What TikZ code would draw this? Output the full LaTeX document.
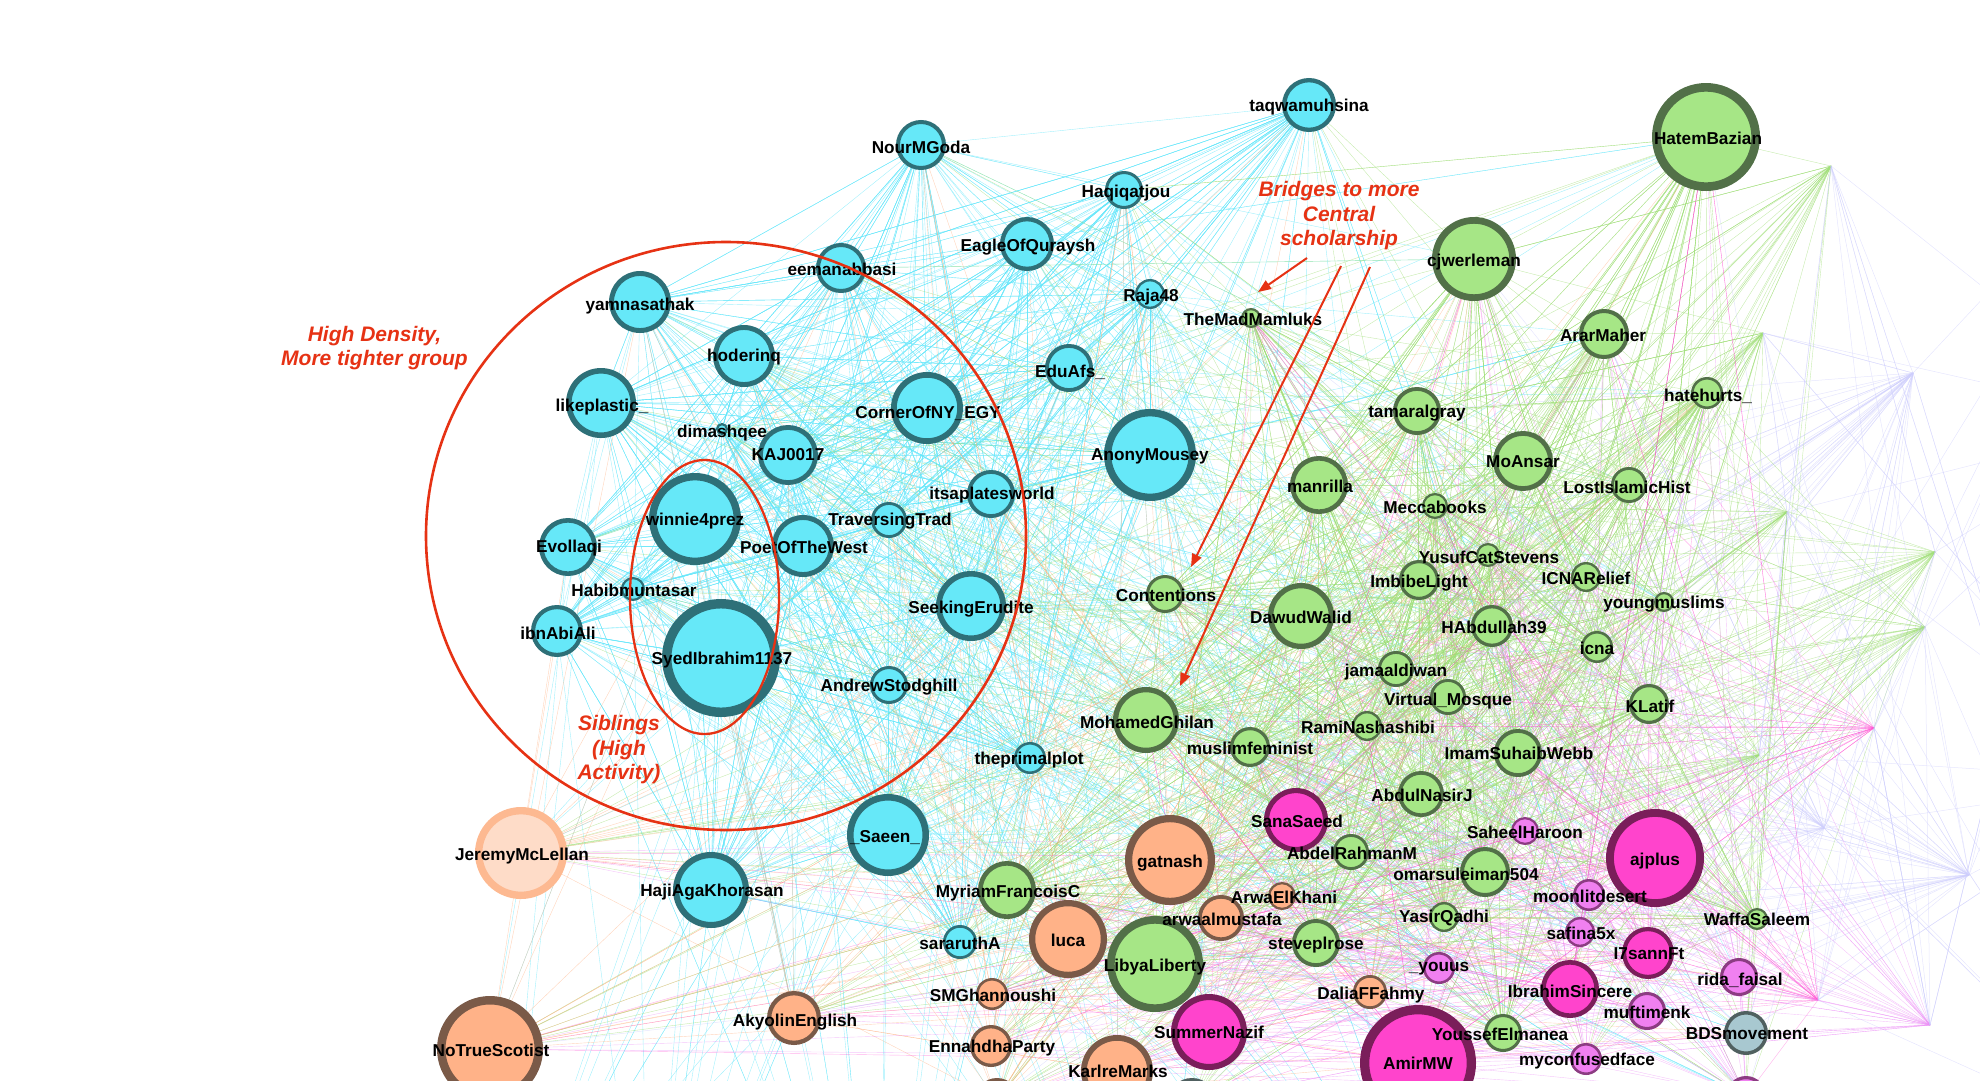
\documentclass[tikz,border=0pt]{standalone}
\usepackage{fontspec}
\setmainfont{Liberation Sans}
\usetikzlibrary{arrows.meta}
\pgfdeclarelayer{edges}
\pgfdeclarelayer{fg}
\pgfsetlayers{edges,main,fg}
\definecolor{cyanF}{RGB}{102,232,248}
\definecolor{cyanB}{RGB}{46,112,120}
\definecolor{grnF}{RGB}{166,230,134}
\definecolor{grnB}{RGB}{82,112,72}
\definecolor{orgF}{RGB}{255,178,136}
\definecolor{orgB}{RGB}{122,90,72}
\definecolor{orgLF}{RGB}{254,220,200}
\definecolor{orgLB}{RGB}{253,185,145}
\definecolor{pnkF}{RGB}{255,68,204}
\definecolor{pnkB}{RGB}{122,30,90}
\definecolor{vioF}{RGB}{240,128,240}
\definecolor{vioB}{RGB}{140,60,130}
\definecolor{gryF}{RGB}{168,200,208}
\definecolor{gryB}{RGB}{80,96,96}
\definecolor{annot}{RGB}{230,50,20}
\definecolor{ecyan}{RGB}{100,230,250}
\definecolor{egreen}{RGB}{160,222,120}
\definecolor{eorange}{RGB}{255,170,120}
\definecolor{epink}{RGB}{255,80,210}
\definecolor{eviolet}{RGB}{235,140,245}
\definecolor{elav}{RGB}{205,205,252}
\tikzset{
  base/.style={circle, inner sep=0pt, outer sep=0pt},
  cyn/.style={base, fill=cyanF, draw=cyanB},
  grn/.style={base, fill=grnF, draw=grnB},
  org/.style={base, fill=orgF, draw=orgB},
  orglight/.style={base, fill=orgLF, draw=orgLB},
  pnk/.style={base, fill=pnkF, draw=pnkB},
  vio/.style={base, fill=vioF, draw=vioB},
  gry/.style={base, fill=gryF, draw=gryB},
  lbl/.style={font=\fontsize{17.2}{19}\selectfont\bfseries, inner sep=0pt, text=black},
  note/.style={text=annot, font=\fontsize{21}{24.5}\selectfont\bfseries\itshape, align=center, inner sep=0pt},
  ring/.style={draw=annot, line width=2.6pt},
  redarrow/.style={draw=annot, line width=2pt, -{Triangle[length=13pt,width=10pt]}},
  ec/.style={draw=ecyan, line width=0.4pt, opacity=0.6},
  eg/.style={draw=egreen, line width=0.4pt, opacity=0.6},
  eo/.style={draw=eorange, line width=0.4pt, opacity=0.5},
  ep/.style={draw=epink, line width=0.4pt, opacity=0.45},
  ev/.style={draw=eviolet, line width=0.4pt, opacity=0.5},
  el/.style={draw=elav, line width=0.5pt, opacity=0.5},
}
\newcommand{\gnode}[9]{%
  \pgfmathsetmacro{\bw}{max(2.2,0.16*#6)}%
  \pgfmathsetmacro{\ms}{2*#6-\bw}%
  \node[#1, alias=n#3, line width=\bw pt, minimum size=\ms pt] (#2) at (#4,#5) {};%
  \begin{pgfonlayer}{fg}\node[lbl] (#2-l) at (#8,#9) {#7};\end{pgfonlayer}%
}
\newcommand{\bnode}[6]{%
  \pgfmathsetmacro{\bw}{max(2.2,0.16*#6)}%
  \pgfmathsetmacro{\ms}{2*#6-\bw}%
  \node[#1, alias=n#3, line width=\bw pt, minimum size=\ms pt] (#2) at (#4,#5) {};%
}
\begin{document}
\begin{tikzpicture}[x=1pt,y=-1pt]
\useasboundingbox (0,0) rectangle (1980,1080);
% ---- cyan group
\gnode{cyn}{taqwa}{1}{1309}{105}{27}{taqwamuhsina}{1309}{107}
\gnode{cyn}{nour}{2}{921}{145}{25}{NourMGoda}{921}{147}
\gnode{cyn}{haqi}{3}{1124}{190}{19}{Haqiqatjou}{1126}{193}
\gnode{cyn}{eagle}{4}{1027}{244}{27}{EagleOfQuraysh}{1028}{247}
\gnode{cyn}{eeman}{5}{841}{268}{25}{eemanabbasi}{842}{269}
\gnode{cyn}{yamna}{6}{640}{302}{31}{yamnasathak}{640}{306}
\gnode{cyn}{raja}{7}{1150}{294}{15}{Raja48}{1151}{297}
\gnode{cyn}{hoder}{8}{744}{356}{31}{hoderinq}{744}{357}
\gnode{cyn}{likep}{9}{601}{403}{35}{likeplastic\_}{602}{407}
\gnode{cyn}{eduafs}{10}{1069}{368}{24}{EduAfs\_}{1070}{372}
\gnode{cyn}{corner}{11}{927}{408}{36}{CornerOfNY\_EGY}{928}{413}
\gnode{cyn}{dimash}{12}{722}{429}{6}{dimashqee}{722}{433}
\gnode{cyn}{kaj}{13}{788}{455}{30}{KAJ0017}{788}{455}
\gnode{cyn}{anony}{14}{1150}{455}{46}{AnonyMousey}{1150}{456}
\gnode{cyn}{itsap}{15}{991}{494}{24}{itsaplatesworld}{992}{495}
\gnode{cyn}{winnie}{16}{695}{519}{46}{winnie4prez}{695}{521}
\gnode{cyn}{trav}{17}{889}{520}{18}{TraversingTrad}{890}{521}
\gnode{cyn}{poet}{18}{803}{546}{31}{PoetOfTheWest}{804}{547}
\gnode{cyn}{evoll}{19}{568}{547}{29}{Evollaqi}{569}{548}
\gnode{cyn}{habib}{20}{633}{589}{12}{Habibmuntasar}{634}{590}
\gnode{cyn}{seek}{21}{971}{606}{35}{SeekingErudite}{971}{609}
\gnode{cyn}{ibnabi}{22}{557}{631}{26}{ibnAbiAli}{558}{633}
\gnode{cyn}{syed}{23}{721}{658}{59}{SyedIbrahim1137}{722}{660}
\gnode{cyn}{andrew}{24}{889}{685}{19}{AndrewStodghill}{889}{687}
\gnode{cyn}{primal}{25}{1030}{758}{16}{theprimalplot}{1029}{760}
\gnode{cyn}{saeen}{26}{888}{835}{41}{\_Saeen\_}{885}{838}
\gnode{cyn}{haji}{27}{711}{890}{38}{HajiAgaKhorasan}{712}{892}
\gnode{cyn}{sara}{28}{960}{942}{17}{sararuthA}{960}{943}
% ---- green group
\gnode{grn}{hatem}{29}{1706}{137}{54}{HatemBazian}{1708}{138}
\gnode{grn}{cjwer}{30}{1474}{259}{42}{cjwerleman}{1474}{262}
\gnode{grn}{madm}{31}{1251}{318}{10}{TheMadMamluks}{1253}{319}
\gnode{grn}{arar}{32}{1604}{334}{25}{ArarMaher}{1603}{335}
\gnode{grn}{hateh}{33}{1707}{393}{16}{hatehurts\_}{1708}{396}
\gnode{grn}{tamar}{34}{1417}{411}{24}{tamaralgray}{1417}{413}
\gnode{grn}{manr}{35}{1319}{485}{29}{manrilla}{1320}{486}
\gnode{grn}{moans}{36}{1523}{461}{30}{MoAnsar}{1523}{462}
\gnode{grn}{losti}{37}{1629}{485}{18}{LostIslamicHist}{1627}{487}
\gnode{grn}{mecca}{38}{1435}{506}{13}{Meccabooks}{1435}{507}
\gnode{grn}{yusuf}{39}{1488}{555}{12}{YusufCatStevens}{1489}{557}
\gnode{grn}{conten}{40}{1165}{594}{19}{Contentions}{1166}{595}
\gnode{grn}{icnar}{41}{1586}{577}{15}{ICNARelief}{1586}{578}
\gnode{grn}{imbibe}{42}{1419}{580}{20}{ImbibeLight}{1419}{583}
\gnode{grn}{youngm}{43}{1664}{602}{10}{youngmuslims}{1664}{604}
\gnode{grn}{dawud}{44}{1301}{616}{33}{DawudWalid}{1301}{617}
\gnode{grn}{habd}{45}{1492}{626}{21}{HAbdullah39}{1494}{627}
\gnode{grn}{icna}{46}{1597}{647}{16}{icna}{1597}{648}
\gnode{grn}{jamaal}{47}{1396}{669}{18}{jamaaldiwan}{1396}{672}
\gnode{grn}{virtual}{48}{1448}{697}{18}{Virtual\_Mosque}{1448}{701}
\gnode{grn}{klatif}{49}{1649}{704}{20}{KLatif}{1650}{706}
\gnode{grn}{ghilan}{50}{1146}{720}{33}{MohamedGhilan}{1147}{722}
\gnode{grn}{rami}{51}{1367}{726}{15}{RamiNashashibi}{1368}{727}
\gnode{grn}{muslimf}{52}{1250}{747}{20}{muslimfeminist}{1250}{748}
\gnode{grn}{suhaib}{53}{1518}{753}{24}{ImamSuhaibWebb}{1519}{753}
\gnode{grn}{abdulnj}{54}{1421}{794}{23}{AbdulNasirJ}{1422}{795}
\gnode{grn}{abdelr}{55}{1351}{852}{18}{AbdelRahmanM}{1352}{853}
\gnode{grn}{omars}{56}{1485}{872}{25}{omarsuleiman504}{1466}{874}
\gnode{grn}{myriam}{57}{1007}{890}{29}{MyriamFrancoisC}{1008}{893}
\gnode{grn}{yasir}{58}{1444}{917}{15}{YasirQadhi}{1444}{918}
\gnode{grn}{libya}{59}{1155}{964}{48}{LibyaLiberty}{1155}{967}
\gnode{grn}{steve}{60}{1316}{943}{24}{steveplrose}{1316}{945}
\gnode{grn}{waffa}{61}{1757}{919}{11}{WaffaSaleem}{1757}{919}
\gnode{grn}{youssef}{62}{1503}{1033}{19}{YoussefElmanea}{1500}{1034}
% ---- orange group
\gnode{org}{gatnash}{63}{1170}{860}{45}{gatnash}{1170}{863}
\gnode{org}{arwaal}{64}{1221}{918}{23}{arwaalmustafa}{1222}{919}
\gnode{org}{arwael}{65}{1282}{896}{14}{ArwaElKhani}{1284}{897}
\gnode{org}{luca}{66}{1068}{939}{39}{luca}{1068}{940}
\gnode{org}{dalia}{67}{1370}{992}{17}{DaliaFFahmy}{1371}{995}
\gnode{org}{smg}{68}{992}{994}{16}{SMGhannoushi}{993}{995}
\gnode{org}{akyol}{69}{794}{1018}{27}{AkyolinEnglish}{795}{1022}
\gnode{org}{notrue}{70}{490}{1049}{53}{NoTrueScotist}{491}{1050}
\gnode{org}{ennah}{71}{991}{1046}{21}{EnnahdhaParty}{992}{1048}
\gnode{org}{karl}{72}{1117}{1071}{36}{KarlreMarks}{1118}{1071}
\bnode{org}{obot}{73}{997}{1100}{22}
\gnode{orglight}{jeremy}{74}{521}{853}{46}{JeremyMcLellan}{522}{856}
% ---- pink group
\gnode{pnk}{sana}{75}{1296}{820}{32}{SanaSaeed}{1297}{821}
\gnode{pnk}{ajplus}{76}{1655}{858}{49}{ajplus}{1655}{861}
\gnode{pnk}{isann}{77}{1648}{953}{26}{I7sannFt}{1649}{954}
\gnode{pnk}{ibrahims}{78}{1570}{989}{29}{IbrahimSincere}{1570}{991}
\gnode{pnk}{summer}{79}{1209}{1032}{38}{SummerNazif}{1209}{1032}
\gnode{pnk}{amir}{80}{1418}{1063}{58}{AmirMW}{1418}{1063}
% ---- violet group
\gnode{vio}{saheel}{81}{1525}{831}{14}{SaheelHaroon}{1525}{832}
\gnode{vio}{moonlit}{82}{1589}{895}{16}{moonlitdesert}{1590}{896}
\gnode{vio}{safina}{83}{1580}{932}{15}{safina5x}{1581}{933}
\gnode{vio}{youus}{84}{1439}{968}{16}{\_youus}{1439}{969}
\gnode{vio}{rida}{85}{1739}{977}{19}{rida\_faisal}{1740}{980}
\gnode{vio}{mufti}{86}{1647}{1011}{19}{muftimenk}{1647}{1012}
\gnode{vio}{myconf}{87}{1586}{1059}{16}{myconfusedface}{1587}{1061}
\bnode{vio}{shbot}{88}{1746}{1096}{20}
% ---- grey group
\gnode{gry}{bds}{89}{1746}{1033}{22}{BDSmovement}{1747}{1034}
\bnode{gry}{gbot}{90}{1192}{1103}{25}
% ---- hubs and off-canvas ends
\foreach \hx/\hy [count=\h] in {1831/166,1763/333,1913/373,1787/512,1935/552,1925/627,1874/728,1759/755,1969/875,1818/1000,1930/1025,1824/828}
  \coordinate (hub\h) at (\hx,\hy);
\foreach \bx/\by [count=\b] in {500/1300,650/1350,880/1400,1150/1350,1450/1300}
  \coordinate (ob\b) at (\bx,\by);
\foreach \rx/\ry [count=\r] in {2150/120,2150/420,2150/780,2150/1150}
  \coordinate (orr\r) at (\rx,\ry);
% ---- connectors
\begin{pgfonlayer}{edges}
\pgfmathsetseed{4242}
\foreach \i in {1,...,28}{%
  \foreach \k in {1,...,28}{\pgfmathrandominteger{\j}{1}{28}\draw[ec] (n\i.center) -- (n\j.center);}%
  \foreach \k in {1,...,14}{\pgfmathrandominteger{\j}{1}{90}\draw[ec] (n\i.center) -- (n\j.center);}%
  \foreach \k in {1,2,3}{\pgfmathrandominteger{\j}{1}{5}\draw[ec] (n\i.center) -- (ob\j);}%
}
\foreach \i in {29,...,62}{%
  \foreach \k in {1,...,22}{\pgfmathrandominteger{\j}{29}{62}\draw[eg] (n\i.center) -- (n\j.center);}%
  \foreach \k in {1,...,12}{\pgfmathrandominteger{\j}{1}{90}\draw[eg] (n\i.center) -- (n\j.center);}%
}
\foreach \i in {63,...,74}{%
  \foreach \k in {1,...,14}{\pgfmathrandominteger{\j}{1}{90}\draw[eo] (n\i.center) -- (n\j.center);}%
}
\foreach \i in {75,...,80}{%
  \foreach \k in {1,...,26}{\pgfmathrandominteger{\j}{29}{90}\draw[ep] (n\i.center) -- (n\j.center);}%
}
\foreach \i in {81,...,88}{%
  \foreach \k in {1,...,20}{\pgfmathrandominteger{\j}{29}{90}\draw[ev] (n\i.center) -- (n\j.center);}%
}
\foreach \h/\s in {1/eg,2/eg,3/el,4/eg,5/eg,6/eg,7/ep,8/eg,9/el,10/ep,11/ev,12/el}{%
  \foreach \k in {1,...,32}{\pgfmathrandominteger{\j}{29}{90}\draw[\s] (hub\h) -- (n\j.center);}%
  \foreach \k in {1,...,4}{\pgfmathrandominteger{\j}{1}{12}\draw[el] (hub\h) -- (hub\j);}%
  \foreach \k in {1,2,3}{\pgfmathrandominteger{\j}{1}{4}\draw[el] (hub\h) -- (orr\j);}%
}
\end{pgfonlayer}
% ---- annotations
\begin{pgfonlayer}{fg}
\draw[ring] (726,536) ellipse [x radius=300, y radius=294];
\draw[ring, line width=2.3pt] (704.5,597) ellipse [x radius=74.5, y radius=137];
\node[note] (dense) at (374.5,348) {High Density,\\More tighter group};
\node[note] (sib) at (619,750) {Siblings\\(High\\Activity)};
\node[note] (bridge) at (1339,216) {Bridges to more\\Central\\scholarship};
\coordinate (a1s) at (1307,258);
\coordinate (a1e) at (1258,292);
\coordinate (a2s) at (1341,266);
\coordinate (a2e) at (1191,567);
\coordinate (a3s) at (1370,267);
\coordinate (a3e) at (1180,686);
\draw[redarrow] (a1s) -- (a1e);
\draw[redarrow] (a2s) -- (a2e);
\draw[redarrow] (a3s) -- (a3e);
\end{pgfonlayer}
\end{tikzpicture}
\end{document}
